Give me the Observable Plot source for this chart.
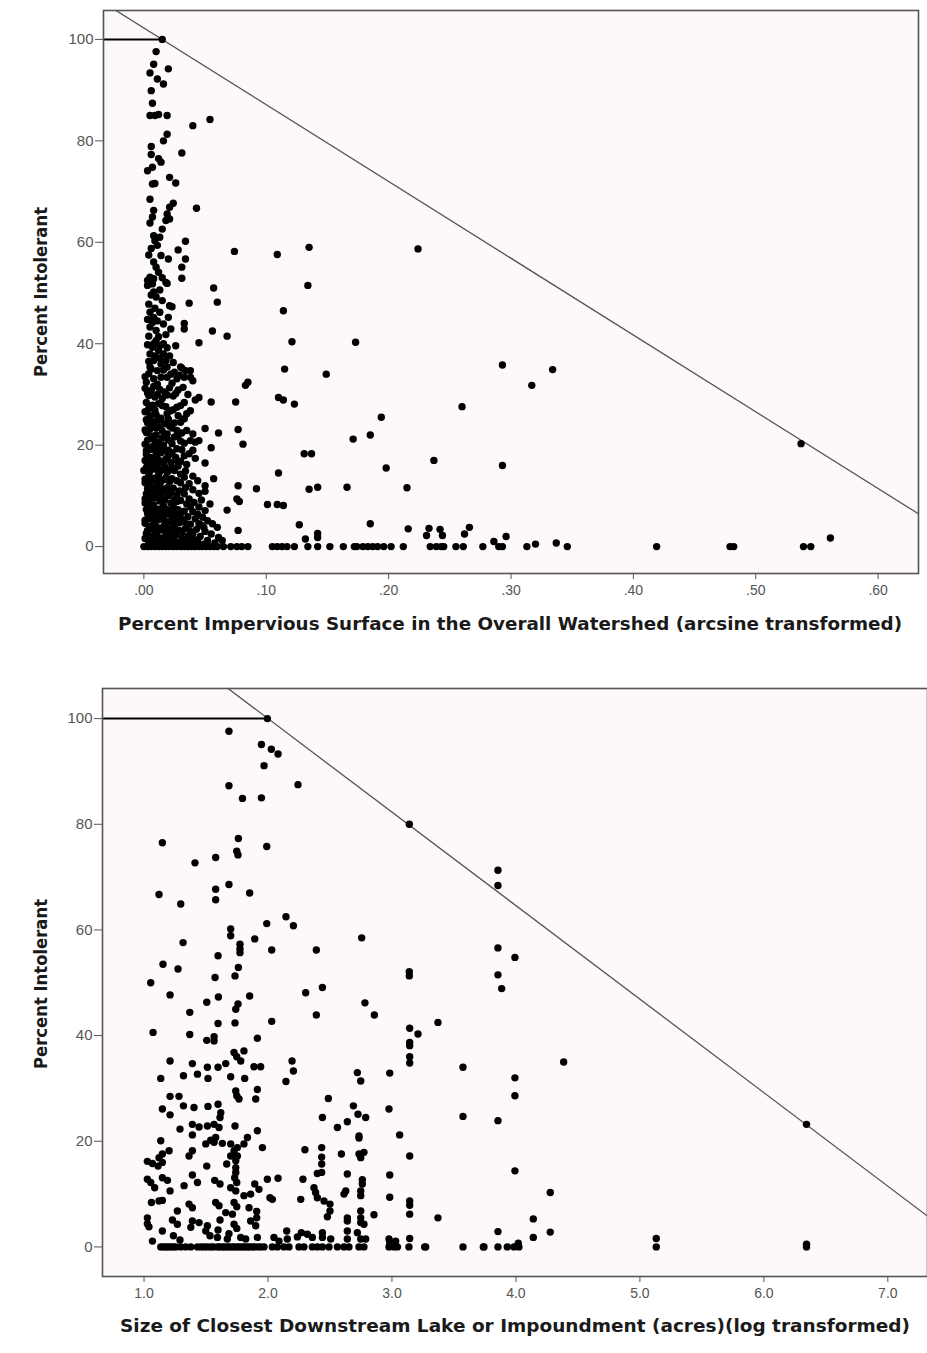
<!DOCTYPE html>
<html><head><meta charset="utf-8">
<script src="https://cdn.jsdelivr.net/npm/d3@7"></script>
<script src="https://cdn.jsdelivr.net/npm/@observablehq/plot@0.6"></script>
<style>body{margin:0;background:#fff;} #wrap{width:927px;} svg{display:block;}</style>
</head><body><div id="wrap"></div>
<script>
// ---------- Panel 1: Percent impervious surface (arcsine) vs percent intolerant ----------
const impTicks = [0, 0.1, 0.2, 0.3, 0.4, 0.5, 0.6];
const pctTicks = [0, 20, 40, 60, 80, 100];
const impLabel = "Percent Impervious Surface in the Overall Watershed (arcsine transformed)";
const lakeLabel = "Size of Closest Downstream Lake or Impoundment (acres)(log transformed)";
const yLabel = "Percent Intolerant";

const impColumnHigh = [[0.015,100],[0.010,97.6],[0.008,95.1],[0.020,94.2],[0.005,93.4],[0.011,92.2],[0.016,91.2],[0.006,89.9],[0.007,87.4],[0.005,85.0],[0.009,85.0],[0.012,85.2],[0.019,85.0],[0.040,83.0],[0.054,84.2],[0.019,81.3],[0.016,80.0],[0.031,77.6],[0.006,78.9],[0.006,77.3],[0.012,76.5],[0.014,75.8],[0.003,74.1],[0.007,74.8],[0.021,72.8],[0.026,71.7],[0.009,71.6],[0.007,71.5],[0.043,66.7],[0.005,68.5],[0.024,67.7],[0.021,66.9],[0.008,66.3],[0.007,65.0],[0.005,63.8],[0.019,65.6],[0.021,64.6],[0.018,64.3],[0.015,62.6],[0.008,61.3],[0.013,61.0],[0.034,60.2],[0.011,59.4],[0.028,58.5],[0.014,57.4],[0.020,56.7],[0.034,56.7],[0.008,56.1],[0.010,55.1],[0.031,55.1],[0.012,54.1],[0.005,53.1],[0.003,52.5],[0.008,52.8],[0.007,51.8],[0.003,51.5],[0.018,52.1],[0.031,52.9],[0.019,51.9],[0.057,51.0],[0.008,50.2],[0.010,49.2],[0.037,48.0],[0.060,48.2],[0.021,47.5],[0.023,47.3],[0.005,46.2],[0.008,45.2],[0.007,44.2],[0.020,45.2],[0.016,43.9],[0.022,42.9],[0.033,44.0],[0.033,42.9],[0.010,42.6],[0.005,43.3],[0.056,42.5],[0.068,41.5],[0.045,40.2],[0.010,40.6],[0.016,40.0],[0.007,39.3],[0.012,38.7],[0.005,38.0],[0.016,38.0],[0.008,36.7],[0.014,36.0],[0.018,36.7],[0.005,35.4],[0.011,34.7],[0.019,35.4],[0.025,34.4],[0.030,35.4],[0.034,34.7],[0.031,35.2],[0.038,34.7],
[0.004,36.5],[0.009,37.6],[0.013,37.2],[0.003,39.8],[0.008,40.0],[0.013,39.6],[0.019,39.2],[0.004,41.5],[0.012,41.4],[0.018,41.8],[0.003,44.8],[0.011,44.5],[0.013,46.2],[0.004,47.8],[0.009,47.0],[0.015,48.5],[0.006,49.6],[0.013,50.6],[0.021,37.6],[0.024,36.3],[0.026,39.6],[0.015,53.0],[0.004,57.5],[0.006,58.8],[0.009,60.3]];

const impCore = [[0.004,34.1],[0.014,33.4],[0.008,33.1],[0.019,33.4],[0.038,33.4],[0.040,32.7],[0.033,33.4],[0.027,33.1],[0.002,32.4],[0.011,32.0],[0.023,32.2],
[0.001,31.2],[0.006,30.8],[0.013,31.0],[0.017,30.5],[0.021,31.3],[0.028,30.9],[0.004,29.8],[0.009,29.5],[0.015,29.2],[0.024,29.7],
[0.045,29.4],[0.042,28.9],[0.055,28.5],[0.002,28.4],[0.007,27.9],[0.012,28.2],[0.018,27.6],[0.027,27.5],[0.022,26.8],[0.019,26.2],[0.038,26.8],[0.035,26.2],[0.001,26.6],[0.005,25.8],[0.010,26.0],[0.014,25.3],[0.033,25.2],[0.030,24.5],[0.003,24.4],[0.008,24.0],[0.013,23.6],[0.017,24.2],[0.023,23.4],[0.027,22.9],
[0.050,23.3],[0.061,22.4],[0.040,22.2],[0.035,22.9],[0.045,20.9],[0.042,20.6],[0.038,20.9],[0.002,22.5],[0.006,21.8],[0.010,22.0],[0.015,21.4],[0.020,21.0],[0.025,21.6],[0.030,20.8],[0.001,20.2],[0.004,19.6],[0.008,19.9],[0.012,19.3],[0.016,20.0],[0.020,19.0],[0.055,19.5],[0.027,19.3],[0.037,18.3],[0.033,17.9],[0.026,17.6],
[0.050,16.5],[0.018,17.3],[0.022,16.6],[0.027,17.0],[0.023,15.6],[0.002,18.2],[0.006,17.6],[0.010,17.9],[0.014,18.5],[0.003,16.4],[0.007,15.8],[0.011,16.1],[0.015,15.2],[0.000,15.0],[0.019,14.6],[0.025,15.0],[0.030,14.3],[0.004,14.0],[0.008,13.5],[0.012,14.2],[0.016,13.2],
[0.057,13.4],[0.050,12.0],[0.050,10.9],[0.033,13.7],[0.027,13.0],[0.037,12.4],[0.044,13.0],[0.021,12.8],[0.001,12.6],[0.005,12.0],[0.009,11.7],[0.013,12.3],[0.017,11.3],[0.024,11.5],[0.029,11.0],[0.040,11.2],[0.002,10.4],[0.006,10.0],[0.011,10.2],[0.015,9.6],[0.020,10.1],[0.025,9.3],[0.033,10.4],[0.037,9.4],[0.030,9.1],
[0.054,8.4],[0.076,9.4],[0.041,8.7],[0.045,7.8],[0.038,7.8],[0.001,8.6],[0.004,7.9],[0.008,8.2],[0.012,7.4],[0.016,8.0],[0.020,7.2],[0.024,7.9],[0.028,7.3],[0.033,7.0],[0.068,7.2],[0.003,6.5],[0.007,6.0],[0.011,6.3],[0.015,5.8],[0.019,6.4],[0.023,5.6],[0.027,6.0],[0.031,5.4],[0.036,5.9],
[0.044,6.4],[0.048,5.8],[0.052,5.1],[0.056,4.5],[0.060,3.8],[0.049,3.8],[0.045,4.5],[0.042,5.5],[0.001,4.6],[0.005,4.0],[0.009,4.4],[0.013,3.7],[0.017,4.2],[0.021,3.4],[0.025,4.0],[0.029,3.2],[0.034,3.6],[0.038,3.0],[0.002,2.6],[0.006,2.0],[0.010,2.4],[0.014,1.7],[0.018,2.2],[0.022,1.5],[0.026,2.3],[0.031,1.6],[0.036,2.1],[0.041,1.4],[0.046,2.0],[0.055,2.5],[0.061,1.8],[0.064,1.2],[0.052,1.2],[0.004,1.0],[0.008,0.8],[0.012,1.1],[0.016,0.7],[0.020,0.9]];

const impCoreFill = [[0.006,35.0],[0.016,34.8],[0.022,34.0],[0.029,33.8],[0.001,33.5],
[0.003,30.3],[0.008,31.6],[0.011,30.0],[0.019,29.9],[0.026,30.2],[0.032,31.4],[0.036,30.0],
[0.004,27.2],[0.009,26.9],[0.015,27.8],[0.024,27.0],[0.030,27.8],[0.033,28.4],
[0.002,25.0],[0.007,24.7],[0.012,24.9],[0.020,25.1],[0.025,24.4],[0.028,25.8],
[0.001,23.0],[0.005,23.2],[0.010,23.4],[0.015,22.8],[0.019,22.2],[0.031,22.4],[0.021,23.8],
[0.003,21.0],[0.008,21.2],[0.012,20.6],[0.017,21.8],[0.023,20.3],[0.028,21.9],[0.033,20.4],
[0.002,18.9],[0.006,19.2],[0.010,18.6],[0.014,19.7],[0.018,18.9],[0.023,18.5],[0.031,19.1],[0.040,19.0],
[0.001,17.0],[0.004,17.3],[0.008,16.8],[0.012,17.1],[0.016,16.7],[0.020,17.9],[0.030,16.8],[0.035,16.2],[0.042,17.4],
[0.002,15.6],[0.005,14.9],[0.009,15.3],[0.013,14.8],[0.017,15.7],[0.021,15.1],[0.028,15.9],[0.034,14.9],
[0.001,13.3],[0.006,13.1],[0.010,13.0],[0.014,12.9],[0.018,13.6],[0.023,13.4],[0.030,12.6],[0.040,13.9],
[0.003,11.4],[0.007,11.0],[0.011,11.5],[0.015,10.8],[0.019,11.6],[0.022,10.6],[0.027,10.2],[0.034,11.6],[0.045,10.5],
[0.001,9.4],[0.004,9.1],[0.008,9.6],[0.013,9.0],[0.017,9.2],[0.022,8.6],[0.027,8.9],[0.035,8.4],[0.047,9.2],
[0.002,7.3],[0.006,7.1],[0.010,7.0],[0.014,6.7],[0.018,7.4],[0.022,6.8],[0.026,7.0],[0.030,6.6],[0.040,6.9],[0.050,7.1],
[0.001,5.2],[0.004,5.5],[0.008,5.0],[0.012,5.3],[0.017,5.1],[0.021,4.8],[0.025,5.2],[0.029,4.7],[0.033,4.9],[0.038,4.4],[0.047,4.2],
[0.003,3.2],[0.007,3.4],[0.011,3.0],[0.015,3.3],[0.019,2.9],[0.023,2.7],[0.027,3.0],[0.031,2.8],[0.040,2.6],[0.043,3.4],[0.050,3.0],
[0.001,1.6],[0.005,1.4],[0.009,1.5],[0.013,0.5],[0.017,1.3],[0.021,0.6],[0.025,1.1],[0.029,0.7],[0.033,1.0],[0.038,0.9],[0.044,0.9],[0.049,0.5],[0.058,0.7]];

const impSpread = [[0.074,58.2],[0.109,57.6],[0.135,59.0],[0.224,58.7],[0.134,51.5],[0.114,46.5],[0.121,40.4],[0.173,40.3],[0.115,35.0],[0.149,34.0],[0.293,35.8],[0.334,34.9],[0.317,31.8],[0.085,32.4],[0.083,31.8],[0.075,28.5],[0.110,29.4],[0.114,28.9],[0.123,28.1],[0.260,27.6],[0.194,25.5],[0.077,23.1],[0.081,20.2],[0.171,21.2],[0.185,22.0],[0.131,18.3],[0.137,18.3],[0.198,15.5],[0.237,17.0],[0.293,16.0],[0.110,14.5],[0.077,12.0],[0.092,11.4],[0.135,11.3],[0.142,11.7],[0.166,11.7],[0.215,11.6],[0.078,8.9],[0.101,8.3],[0.109,8.3],[0.114,8.1],[0.077,3.2],[0.127,4.3],[0.185,4.5],[0.132,1.5],[0.142,2.6],[0.142,1.8],[0.216,3.5],[0.233,3.6],[0.231,2.2],[0.242,3.4],[0.244,2.2],[0.266,3.8],[0.262,2.5],[0.286,1.0],[0.296,2.0],[0.320,0.5],[0.337,0.7],[0.537,20.3],[0.561,1.7]];

const impZerosX = [0.000,0.003,0.006,0.009,0.012,0.015,0.018,0.021,0.024,0.027,0.030,0.033,0.036,0.039,0.042,0.045,0.048,0.051,0.054,0.057,0.060,0.065,0.071,0.076,0.080,0.085,0.105,0.109,0.113,0.117,0.123,0.134,0.142,0.152,0.163,0.172,0.174,0.179,0.183,0.187,0.191,0.196,0.202,0.212,0.234,0.239,0.243,0.245,0.255,0.261,0.277,0.290,0.293,0.313,0.346,0.419,0.479,0.482,0.539,0.545];

const impBoundary = [[-0.04,108.3],[0.64,5.4]];
const impMaxPoint = 0.015;

// ---------- Panel 2: lake size (log) vs percent intolerant ----------
const lakeTicks = [1, 2, 3, 4, 5, 6, 7];

const lakeHigh = [[1.995,100],[1.685,97.6],[1.947,95.1],[2.027,94.2],[2.081,93.3],[1.968,91.1],[1.685,87.3],[2.242,87.5],[1.794,84.9],[1.947,85.0],[3.140,80.0],[1.148,76.5],[1.761,77.3],[1.748,74.9],[1.758,74.2],[1.990,75.8],[1.578,73.7],[1.411,72.7],[1.685,68.6],[1.121,66.7],[1.578,67.7],[1.578,65.7],[1.296,64.9],[1.852,67.0],[2.145,62.5],[2.205,60.8],[1.990,61.2],[1.699,60.2],[1.699,58.9],[1.893,58.3],[2.756,58.5],[1.315,57.6],[1.774,57.3],[1.774,56.4],[1.774,55.7],[2.030,56.2],[2.390,56.2],[1.597,55.1],[3.140,52.1],[3.140,51.3],[1.153,53.5],[1.274,52.6],[1.761,52.9],[1.734,51.3],[1.573,51.0],[1.054,50.0],[1.210,47.7],[1.600,47.3],[1.852,47.5],[2.304,48.1],[2.439,49.1],[2.782,46.2],[3.855,71.3],[3.855,68.4],[3.855,56.6],[3.992,54.8],[3.855,51.5],[3.885,48.9],[6.344,23.2]];

const lakeMid = [[1.506,46.3],[1.758,46.0],[1.740,45.0],[2.390,43.9],[2.858,43.9],[1.369,44.4],[1.597,42.3],[1.734,42.4],[2.030,42.7],[1.073,40.6],[1.369,40.2],[1.506,39.1],[1.565,39.0],[1.565,39.8],[1.914,39.5],[3.143,41.4],[3.210,40.3],[3.143,38.7],[3.143,38.1],[3.143,36.0],[3.143,34.8],[3.371,42.5],[1.726,36.8],[1.806,37.1],[1.748,36.0],[1.780,35.2],[1.210,35.2],[1.390,34.7],[1.511,34.0],[1.597,34.0],[1.659,34.7],[1.887,34.1],[1.941,34.1],[2.194,35.2],[2.205,33.3],[2.145,31.3],[2.721,33.0],[2.748,31.4],[2.982,32.9],[3.573,34.0],[4.385,35.0],[3.992,32.0],[3.992,28.6],[1.135,31.9],[1.318,32.4],[1.431,32.7],[1.516,31.9],[1.699,32.2],[1.812,31.9],[1.914,29.8],[1.901,28.0],[1.740,29.5],[1.748,28.6],[1.766,28.0],[1.210,28.5],[1.282,28.5],[2.487,28.1],[1.148,26.1],[1.210,25.0],[1.318,26.7],[1.403,26.4],[1.516,26.6],[1.597,27.0],[1.619,25.4],[1.613,24.5],[2.689,26.7],[2.726,25.1],[2.788,24.5],[2.976,26.1],[2.439,24.5],[2.640,23.7],[2.560,22.6],[3.573,24.7],[3.855,23.9],[1.390,23.2],[1.444,22.7],[1.511,22.9],[1.565,23.2],[1.605,22.6],[1.290,22.3],[1.734,22.9],[1.914,22.0],[2.734,21.0],[2.734,20.6],[3.062,21.2],[1.390,21.2],[1.578,20.7],[1.538,20.2],[1.834,20.7],[1.135,20.1]];

const lakeLow = [[1.498,19.5],[1.565,19.8],[1.632,19.6],[1.699,19.5],[1.753,18.8],[1.806,19.5],[1.955,18.8],[1.202,18.2],[1.148,17.6],[1.121,16.9],[1.390,18.2],[1.363,17.2],[1.726,18.2],[1.753,17.2],[1.699,17.2],[2.298,18.4],[2.433,18.8],[2.433,17.0],[2.592,17.6],[2.734,17.6],[2.774,17.9],[2.748,16.9],[3.143,17.2],[1.027,16.2],[1.068,15.8],[1.113,15.3],[1.148,16.0],[1.506,15.3],[1.667,15.7],[1.740,16.3],[1.740,15.0],[1.740,14.1],[1.731,13.1],[1.748,12.2],[2.433,15.7],[2.433,14.1],[2.398,13.9],[1.027,12.8],[1.054,12.2],[1.148,13.1],[1.189,12.6],[1.390,13.6],[1.431,12.2],[1.570,12.6],[1.613,11.9],[1.995,12.8],[2.081,13.0],[2.282,12.8],[2.640,13.8],[2.761,12.7],[2.761,11.9],[2.982,13.6],[3.992,14.4],[1.086,11.2],[1.210,10.6],[1.323,11.6],[1.699,11.2],[1.740,10.6],[1.893,11.9],[1.927,10.9],[2.371,11.2],[2.384,10.3],[2.627,10.6],[2.613,10.0],[2.748,10.6],[2.748,9.7],[1.806,9.7],[1.860,10.0],[2.016,9.3],[2.035,9.0],[2.264,9.0],[2.398,9.3],[2.452,8.7],[2.500,8.1],[2.982,9.4],[3.143,8.7],[3.143,7.9],[4.277,10.3],[1.060,8.4],[1.121,8.7],[1.148,8.8],[1.363,8.1],[1.390,7.4],[1.578,8.4],[1.605,7.8],[1.726,8.4],[1.748,7.6],[1.847,7.4],[1.269,6.8],[1.659,6.5],[1.713,6.2],[1.909,6.7],[1.909,5.5],[2.500,6.8],[2.479,5.7],[2.640,5.5],[2.640,4.9],[2.748,6.8],[2.748,5.5],[2.748,4.6],[2.774,4.3],[2.855,6.1],[3.143,6.2],[3.371,5.5],[4.140,5.3],[1.027,5.5],[1.027,4.4],[1.040,3.8],[1.229,5.1],[1.269,4.3],[1.390,4.9],[1.444,4.6],[1.511,4.0],[1.377,3.7],[1.613,5.1],[1.597,3.2],[1.726,4.3],[1.748,3.5],[1.860,4.9],[1.901,4.0],[1.148,3.0],[1.237,2.1],[1.290,1.3],[1.068,1.1],[1.498,3.0],[1.532,2.1],[1.592,1.8],[1.685,2.5],[1.672,1.5],[1.780,1.8],[1.820,1.5],[1.914,1.8],[2.048,1.8],[2.089,1.1],[2.151,3.0],[2.156,1.5],[2.237,1.9],[2.269,2.7],[2.318,2.4],[2.358,1.8],[2.439,2.7],[2.439,1.8],[2.506,1.5],[2.640,3.0],[2.640,1.5],[2.721,2.7],[2.748,1.5],[2.788,1.5],[2.976,1.5],[3.030,1.1],[3.855,2.9],[4.277,2.8],[4.140,1.8],[3.143,1.6],[2.982,0.9],[4.019,0.7],[5.132,1.6],[6.344,0.5]];

const lakeZerosX = [1.135,1.155,1.175,1.195,1.215,1.235,1.256,1.296,1.336,1.377,1.431,1.460,1.484,1.510,1.538,1.560,1.592,1.610,1.632,1.650,1.673,1.690,1.713,1.730,1.753,1.770,1.794,1.810,1.834,1.850,1.874,1.890,1.915,1.940,1.968,2.035,2.076,2.129,2.169,2.250,2.290,2.358,2.398,2.439,2.492,2.560,2.613,2.653,2.734,2.774,2.976,3.016,3.044,3.137,3.264,3.272,3.573,3.737,3.742,3.855,3.930,3.984,4.024,5.132,6.344];

const lakeBoundary = [[1.5,108.85],[7.4,4.42]];
const lakeMaxPoint = 1.995;

// ---------- helpers ----------
const toObj = a => a.map(([x, y]) => ({x, y}));
const zerosObj = a => a.map(x => ({x, y: 0}));
const FONT = "'Liberation Sans', Arial, Helvetica, sans-serif";
const LABEL_FONT = "'DejaVu Sans', Verdana, sans-serif";

function panel(o) {
  const plot = Plot.plot({
    width: 927, height: o.height,
    marginTop: o.mt, marginRight: o.mr, marginBottom: o.mb, marginLeft: o.ml,
    x: {domain: o.xDomain},
    y: {domain: o.yDomain},
    style: {fontFamily: FONT, background: "transparent", overflow: "visible"},
    marks: [
      Plot.frame({fill: "#fcf8fc", stroke: null}),
      Plot.line(toObj(o.boundary), {x: "x", y: "y", stroke: "#555", strokeWidth: 1.3, clip: true}),
      Plot.ruleY([100], {x1: o.xDomain[0], x2: o.ruleTo, stroke: "#000", strokeWidth: 2}),
      Plot.dot(o.pts, {x: "x", y: "y", r: 3.7, fill: "#000", stroke: null}),
      Plot.axisX({ticks: o.xTicks, tickFormat: o.xFmt, tickSize: 6, tickPadding: 6, fontSize: 14, color: "#555", label: null}),
      Plot.axisY({ticks: pctTicks, tickSize: 8, tickPadding: 2, fontSize: 15, color: "#555", label: null}),
      Plot.frame({stroke: "#555", strokeWidth: 1.6})
    ]
  });
  const svg = d3.select(plot);
  svg.append("text").attr("x", o.xlx).attr("y", o.xly)
    .attr("text-anchor", "middle").attr("dominant-baseline", "middle")
    .attr("textLength", o.xlw).attr("lengthAdjust", "spacingAndGlyphs")
    .attr("fill", "#1a1a1a").style("font", `bold 17px ${LABEL_FONT}`).text(o.xLabel);
  svg.append("text").attr("transform", `translate(${o.ylx},${o.yly}) rotate(-90)`)
    .attr("text-anchor", "middle").attr("dominant-baseline", "middle")
    .attr("textLength", 170).attr("lengthAdjust", "spacingAndGlyphs")
    .attr("fill", "#1a1a1a").style("font", `bold 17px ${LABEL_FONT}`).text(yLabel);
  return plot;
}

const wrap = document.getElementById("wrap");
wrap.appendChild(panel({
  pts: [...toObj(impColumnHigh), ...toObj(impCore), ...toObj(impCoreFill), ...toObj(impSpread), ...zerosObj(impZerosX)],
  height: 655, mt: 10, mr: 9, mb: 82, ml: 103,
  xDomain: [-0.033, 0.633], yDomain: [-5.3, 105.7],
  xTicks: impTicks, xFmt: d => d3.format(".2f")(d).replace(/^0/, ""),
  boundary: impBoundary, ruleTo: impMaxPoint,
  xLabel: impLabel, xlx: 510, xly: 625, xlw: 784, ylx: 42, yly: 292
}));
wrap.appendChild(panel({
  pts: [...toObj(lakeHigh), ...toObj(lakeMid), ...toObj(lakeLow), ...zerosObj(lakeZerosX)],
  height: 698, mt: 33, mr: 0, mb: 77, ml: 102,
  xDomain: [0.665, 7.32], yDomain: [-5.6, 105.7],
  xTicks: lakeTicks, xFmt: d3.format(".1f"),
  boundary: lakeBoundary, ruleTo: lakeMaxPoint,
  xLabel: lakeLabel, xlx: 515, xly: 672, xlw: 790, ylx: 42, yly: 329
}));
</script>
</body></html>
